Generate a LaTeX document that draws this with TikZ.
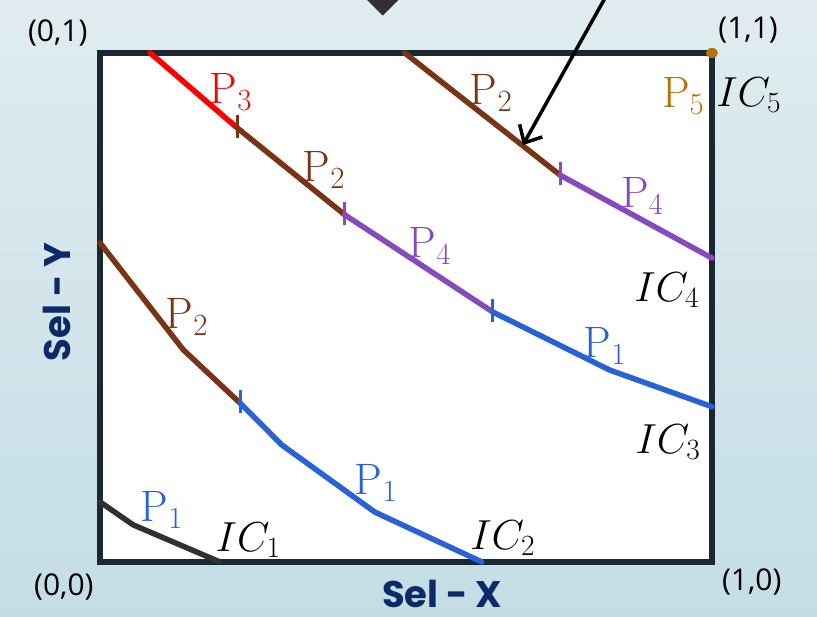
\RequirePackage{fix-cm}
\documentclass[tikz,border=0pt]{standalone}
\usepackage{amsmath}
\usepackage{fontspec}
\usepackage{tikz}
\usetikzlibrary{arrows.meta,positioning}
\newfontfamily\cornerfont{Open Sans}
\newfontfamily\axisfont{Poppins}
\definecolor{icFrame}{RGB}{26,40,52}
\definecolor{icSkyTop}{RGB}{224,236,240}
\definecolor{icSkyBot}{RGB}{196,221,229}
\definecolor{icNavy}{RGB}{12,42,102}
\definecolor{icRed}{RGB}{255,0,0}
\definecolor{icBrown}{RGB}{122,52,20}
\definecolor{icViolet}{RGB}{134,74,192}
\definecolor{icBlue}{RGB}{40,98,216}
\definecolor{icGray}{RGB}{48,48,48}
\definecolor{icAmber}{RGB}{184,112,10}
\newcommand{\plantick}[2]{%
  \draw[#1,line width=3pt] ([yshift=-10pt]#2) -- ([yshift=13pt]#2);
}

\begin{document}
\begin{tikzpicture}[x=612pt,y=509pt,
    curve/.style={line width=5.5pt,line cap=round,line join=round},
    plab/.style={font=\fontsize{44}{48}\selectfont},
    iclab/.style={font=\fontsize{42}{46}\selectfont},
    corner/.style={font=\cornerfont\fontsize{30}{34}\selectfont},
    axislab/.style={font=\axisfont\bfseries\fontsize{37}{40}\selectfont,text=icNavy,inner sep=0pt}]
  \clip (-0.1634,-0.1081) rectangle (1.1716,1.1041);
  \shade[top color=icSkyTop,bottom color=icSkyBot] (-0.1634,-0.1081) rectangle (1.1716,1.1041);
  % pointer shape cut by the top edge
  \filldraw[fill=icGray,draw=black!80,line width=1pt] (0.4342,1.108)--(0.462,1.075)--(0.4898,1.108)--(0.462,1.141)--cycle;
  \draw[icFrame,line width=6pt,fill=white] (0,0) rectangle (1,1);

  % IC1
  \coordinate (a0) at (0,0.118);
  \coordinate (a1) at (0.054,0.073);
  \coordinate (a2) at (0.196,0);
  \draw[curve,icGray] (a0)--(a1)--(a2);

  % IC2
  \coordinate (b0) at (0,0.627);
  \coordinate (b1) at (0.136,0.417);
  \coordinate (b2) at (0.229,0.312);
  \coordinate (b3) at (0.297,0.230);
  \coordinate (b4) at (0.449,0.098);
  \coordinate (b5) at (0.624,0);
  \draw[curve,icBrown] (b0)--(b1)--(b2);
  \draw[curve,icBlue] (b2)--(b3)--(b4)--(b5);
  \plantick{icBlue}{b2}

  % IC3
  \coordinate (c0) at (0.082,1);
  \coordinate (c1) at (0.224,0.853);
  \coordinate (c2) at (0.400,0.682);
  \coordinate (c3) at (0.642,0.491);
  \coordinate (c4) at (0.833,0.377);
  \coordinate (c5) at (1,0.305);
  \draw[curve,icRed] (c0)--(c1);
  \draw[curve,icBrown] (c1)--(c2);
  \draw[curve,icViolet] (c2)--(c3);
  \draw[curve,icBlue] (c3)--(c4)--(c5);
  \plantick{icBrown}{c1}
  \plantick{icViolet}{c2}
  \plantick{icBlue}{c3}

  % IC4
  \coordinate (d0) at (0.498,1);
  \coordinate (d1) at (0.752,0.760);
  \coordinate (d2) at (1,0.597);
  \draw[curve,icBrown] (d0)--(d1);
  \draw[curve,icViolet] (d1)--(d2);
  \plantick{icViolet}{d1}

  % IC5
  \fill[icAmber] (1,1) ellipse (6pt and 5pt);

  % plan labels
  \node[plab,text=icBlue] (a1lab) at (0.101,0.102) {$\mathrm{P}_1$};
  \node[plab,text=icBrown] (b1lab) at (0.142,0.481) {$\mathrm{P}_2$};
  \node[plab,text=icBlue] (b2lab) at (0.451,0.155) {$\mathrm{P}_1$};
  \node[plab,text=icRed] (c1lab) at (0.214,0.923) {$\mathrm{P}_3$};
  \node[plab,text=icBrown] (c2lab) at (0.366,0.770) {$\mathrm{P}_2$};
  \node[plab,text=icViolet] (c3lab) at (0.539,0.621) {$\mathrm{P}_4$};
  \node[plab,text=icBlue] (c4lab) at (0.825,0.424) {$\mathrm{P}_1$};
  \node[plab,text=icBrown] (d1lab) at (0.639,0.921) {$\mathrm{P}_2$};
  \node[plab,text=icViolet] (d2lab) at (0.886,0.719) {$\mathrm{P}_4$};
  \node[plab,text=icAmber] (e1lab) at (0.953,0.916) {$\mathrm{P}_5$};

  % contour labels
  \node[iclab] (ic1) at (0.242,0.043) {$IC_1$};
  \node[iclab] (ic2) at (0.658,0.047) {$IC_2$};
  \node[iclab] (ic3) at (0.928,0.236) {$IC_3$};
  \node[iclab] (ic4) at (0.926,0.534) {$IC_4$};
  \node[iclab] (ic5) at (1.060,0.917) {$IC_5$};

  % corners and axes
  \node[corner] (c01) at (-0.069,1.039) {(0,1)};
  \node[corner] (c11) at (1.059,1.045) {(1,1)};
  \node[corner] (c00) at (-0.059,-0.049) {(0,0)};
  \node[corner] (c10) at (1.065,-0.039) {(1,0)};
  \node[axislab] (selx) at (0.559,-0.063) {Sel - X};
  \node[axislab,rotate=90] (sely) at (-0.070,0.511) {Sel - Y};

  % pointer
  \coordinate (ptail) at (0.828,1.114);
  \coordinate (phead) at (0.691,0.819);
  \draw[-{Straight Barb[length=14pt,width=26pt]},line width=3.5pt] (ptail) -- (phead);
\end{tikzpicture}
\end{document}
